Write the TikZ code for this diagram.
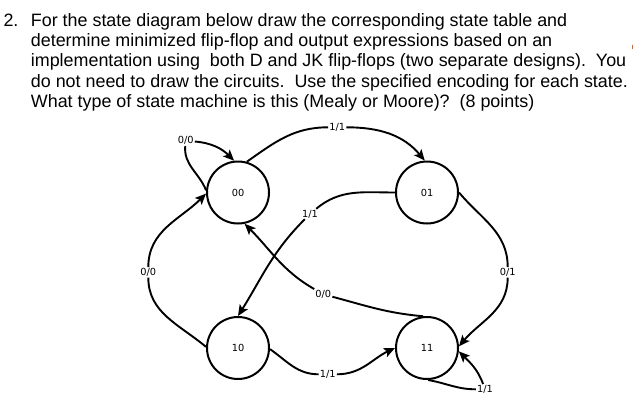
\documentclass[tikz,border=0pt]{standalone}
\usepackage{fontspec}
\setmainfont{Liberation Sans}
\newfontfamily\lblfont{DejaVu Sans}
\usetikzlibrary{arrows.meta}
\begin{document}
\frenchspacing
\begin{tikzpicture}[x=1pt,y=-1pt,
  state/.style={circle, draw, line width=2pt, minimum size=62pt, inner sep=0pt, font=\lblfont\fontsize{9.8}{10}\selectfont},
  lbl/.style={inner sep=1pt, font=\lblfont\fontsize{9.8}{10}\selectfont},
  edge/.style={line width=1.9pt, -{Stealth[length=11pt,width=9.5pt,inset=2.5pt]}},
  ttl/.style={anchor=base west, inner sep=0pt, font=\fontsize{17.9}{20}\selectfont}]
\useasboundingbox (0,0) rectangle (634,405);

% question text
\node[ttl] (num) at (3.3,26) {2.};
\node[ttl] (t1) at (30.7,26) {For the state diagram below draw the corresponding state table and};
\node[ttl] (t2) at (30.7,46.3) {determine minimized flip-flop and output expressions based on an};
\node[ttl] (t3) at (30.7,66.6) {implementation using\ \ both D and JK flip-flops (two separate designs).\ \ You};
\node[ttl] (t4) at (30.7,87) {do not need to draw the circuits.\ \ Use the specified encoding for each state.};
\node[ttl] (t5) at (30.7,107.3) {What type of state machine is this (Mealy or Moore)?\ \ (8 points)};
\draw[orange!70!red, line width=0.9pt] (632.6,44.5) -- (632.6,48.5);

% states
\node[state] (s00) at (238,192.5) {00};
\node[state] (s01) at (427,192.5) {01};
\node[state] (s10) at (238,348) {10};
\node[state] (s11) at (427,348) {11};

% labels
\node[lbl] (l1) at (185.7,140.7) {0/0};
\node[lbl] (l2) at (337.3,127.3) {1/1};
\node[lbl] (l3) at (310,214) {1/1};
\node[lbl] (l4) at (148.3,272.3) {0/0};
\node[lbl] (l5) at (323.3,294.3) {0/0};
\node[lbl] (l6) at (507.7,272.3) {0/1};
\node[lbl] (l7) at (327.7,374.3) {1/1};
\node[lbl] (l8) at (485,389.3) {1/1};

% transitions
\draw[edge] (s00.176) to[out=112,in=-95] (l1) to[out=-5,in=135] (s00.97);
\draw[edge] (s00.74) to[out=35,in=180] (l2) to[out=0,in=130] (s01.94);
\draw[edge] (s01.180) to[out=180,in=40] (l3) to[out=225,in=58] (s10.90);
\draw[edge] (s11.97) to[out=175,in=-15] (l5) to[out=150,in=-45] (s00.-78);
\draw[edge] (s10.178) to[out=140,in=-90] (l4) to[out=90,in=225] (s00.182);
\draw[edge] (s01.0) to[out=-50,in=90] (l6) to[out=-90,in=50] (s11.3);
\draw[edge] (s10.-2) to[out=-35,in=180] (l7) to[out=0,in=205] (s11.180);
\draw[edge] (s11.-88) to[out=-10,in=180] (l8) to[out=110,in=-45] (s11.-6);
\end{tikzpicture}
\end{document}
